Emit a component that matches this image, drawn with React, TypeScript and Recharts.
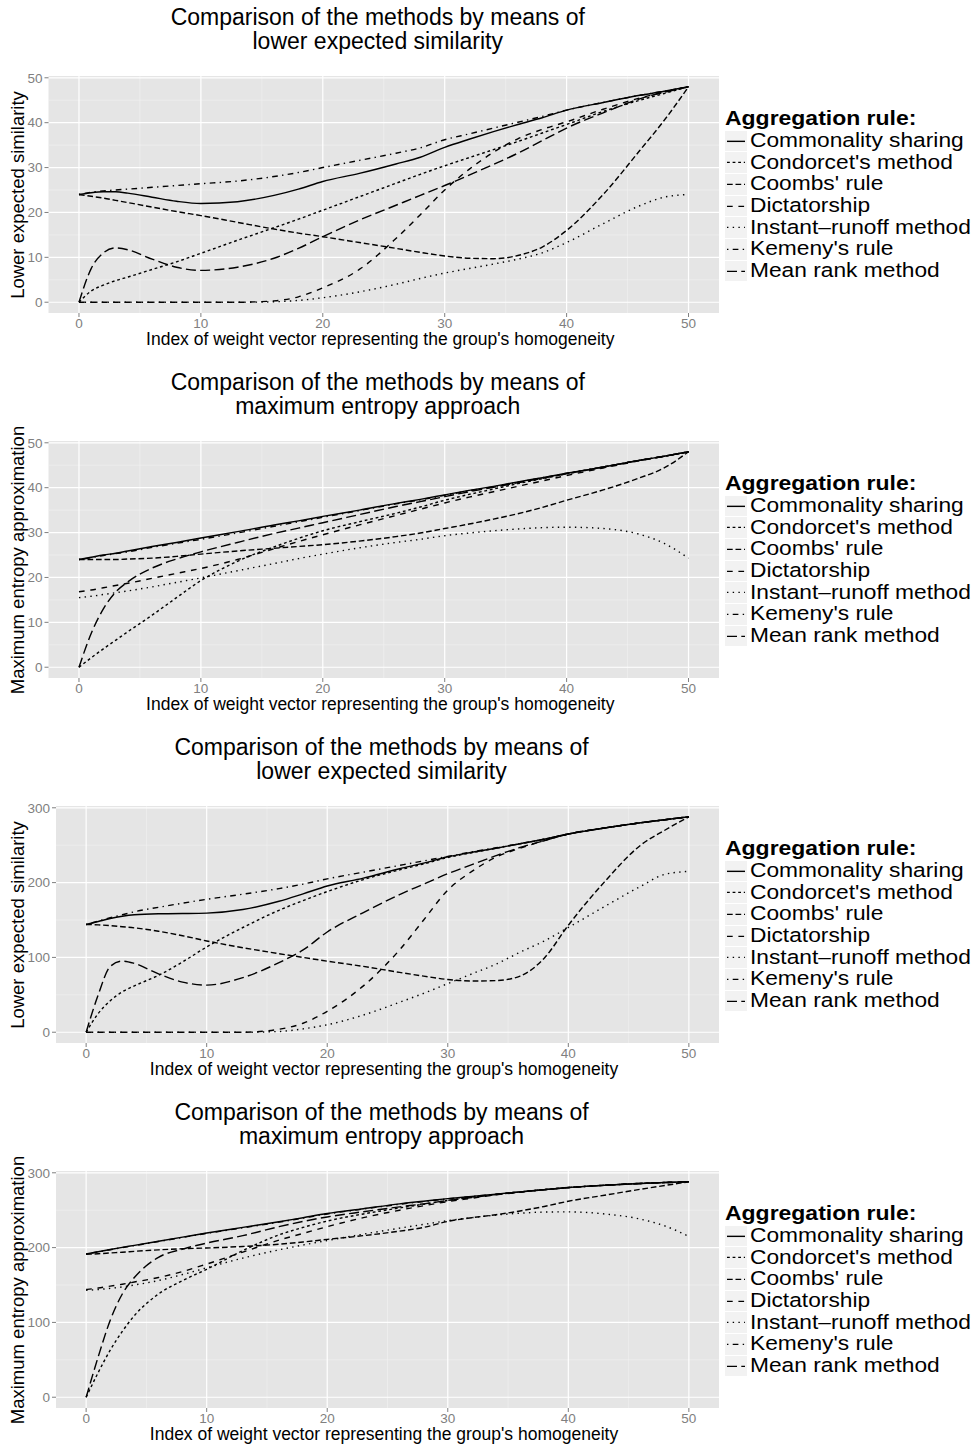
import { LineChart, Line, XAxis, YAxis, CartesianGrid } from 'recharts'

// index of the weight vector (shared x positions of all curves)
const IDX = [0, 1, 2, 3, 4, 6, 8, 10, 13, 16, 18, 20, 23, 26, 28, 30, 32, 34, 36, 38, 40, 43, 46, 48, 50]

const X_TICKS = [0, 10, 20, 30, 40, 50]
const X_MINOR = [5, 15, 25, 35, 45]
const Y_TICKS_50 = [0, 10, 20, 30, 40, 50]
const Y_MINOR_50 = [5, 15, 25, 35, 45]
const Y_TICKS_300 = [0, 100, 200, 300]
const Y_MINOR_300 = [50, 150, 250]

const METHODS = [
  'Commonality sharing',
  "Condorcet's method",
  "Coombs' rule",
  'Dictatorship',
  'Instant–runoff method',
  "Kemeny's rule",
  'Mean rank method',
]

// panel 1: lower expected similarity (0..48)
const les1Commonality = [24, 24.4, 24.6, 24.6, 24.3, 23.4, 22.5, 22.0, 22.4, 23.8, 25.2, 26.9, 28.7, 30.8, 32.3, 34.5, 36.3, 38.0, 39.6, 41.1, 42.8, 44.5, 46.1, 47.0, 48]
const les1Condorcet = [0, 2.5, 3.8, 4.8, 5.6, 7.3, 9.0, 10.9, 13.8, 16.6, 18.5, 20.5, 23.5, 26.5, 28.5, 30.4, 32.2, 34.0, 35.8, 37.7, 39.6, 42.5, 45.0, 46.5, 48]
const les1Coombs = [24, 23.6, 23.2, 22.7, 22.2, 21.2, 20.2, 19.3, 17.8, 16.3, 15.4, 14.6, 13.3, 12.0, 11.1, 10.3, 9.8, 9.7, 10.4, 12.3, 16.0, 24.0, 33.8, 40.5, 48]
const les1Dictatorship = [0, 0, 0, 0, 0, 0, 0, 0, 0, 0.3, 1.2, 3.2, 7.3, 14.2, 19.5, 25.0, 29.6, 33.4, 36.4, 38.5, 40.2, 43.0, 45.5, 46.8, 48]
const les1InstantRunoff = [0, 0, 0, 0, 0, 0, 0, 0, 0, 0.1, 0.4, 1.0, 2.3, 4.0, 5.3, 6.5, 7.5, 8.5, 9.6, 11.0, 13.3, 17.5, 21.5, 23.4, 24]
const les1Kemeny = [24, 24.5, 24.8, 25.0, 25.2, 25.6, 26.0, 26.4, 27.0, 28.0, 28.9, 30.0, 31.6, 33.2, 34.4, 36.2, 37.5, 38.8, 40.1, 41.4, 42.8, 44.5, 46.1, 47.0, 48]
const les1MeanRank = [0, 7.5, 11.0, 12.1, 11.7, 9.6, 7.8, 7.1, 7.8, 9.8, 12.0, 14.6, 18.3, 21.6, 23.8, 26.0, 28.3, 30.7, 33.2, 36.0, 38.8, 42.2, 45.3, 46.8, 48]

// panel 2: maximum entropy approximation (0..48)
const mea1Commonality = [24, 24.5, 25.0, 25.4, 25.9, 26.9, 27.8, 28.8, 30.2, 31.7, 32.6, 33.6, 35.0, 36.5, 37.4, 38.4, 39.4, 40.3, 41.3, 42.2, 43.2, 44.6, 46.1, 47.0, 48]
const mea1Condorcet = [0, 2.1, 4.1, 6.0, 7.9, 11.6, 15.5, 19.3, 23.6, 26.8, 28.7, 30.4, 32.4, 34.3, 35.7, 37.2, 38.5, 39.7, 40.9, 42.0, 43.1, 44.6, 46.1, 47.0, 48]
const mea1Coombs = [24, 24.0, 24.0, 24.0, 24.1, 24.3, 24.7, 25.2, 25.9, 26.5, 26.9, 27.3, 28.1, 29.1, 29.9, 30.9, 31.9, 33.0, 34.2, 35.6, 37.2, 39.5, 42.2, 44.4, 48]
const mea1Dictatorship = [16.8, 17.2, 17.7, 18.2, 18.7, 19.8, 20.9, 22.0, 24.0, 26.4, 28.0, 29.5, 31.7, 33.8, 35.2, 36.6, 37.9, 39.1, 40.3, 41.5, 42.7, 44.4, 46.0, 47.0, 48]
const mea1InstantRunoff = [15.5, 15.8, 16.2, 16.6, 17.0, 17.9, 18.9, 19.9, 21.5, 23.1, 24.2, 25.2, 26.6, 27.8, 28.5, 29.3, 29.9, 30.4, 30.8, 31.1, 31.2, 30.9, 29.6, 27.6, 24.3]
const mea1Kemeny = [24, 24.4, 24.9, 25.3, 25.7, 26.7, 27.6, 28.5, 29.9, 31.4, 32.4, 33.4, 34.9, 36.4, 37.3, 38.3, 39.3, 40.2, 41.2, 42.2, 43.2, 44.6, 46.1, 47.0, 48]
const mea1MeanRank = [0, 7.5, 13.0, 16.7, 19.0, 22.1, 24.1, 25.7, 27.8, 29.8, 31.0, 32.2, 34.0, 35.8, 36.9, 38.0, 39.1, 40.1, 41.1, 42.1, 43.1, 44.6, 46.1, 47.0, 48]

// panel 3: lower expected similarity (0..288)
const les2Commonality = [144, 148, 152, 155, 157, 158.3, 158.6, 159.2, 164, 175, 185, 195.5, 206, 218.5, 226, 234.5, 240.5, 246, 252, 258, 265, 273, 280, 284, 288]
const les2Condorcet = [0, 25, 42, 54, 62, 76, 94, 114, 140, 163, 176, 188, 204, 217, 225, 233.5, 240, 246, 252, 258, 265, 273, 280, 284, 288]
const les2Coombs = [144, 143.5, 142.5, 141, 139.5, 135, 129, 122, 113, 105, 100, 95, 88, 80, 75, 70.5, 68.5, 69, 75, 99, 143, 201, 250, 270, 288]
const les2Dictatorship = [0, 0, 0, 0, 0, 0, 0, 0, 0, 4, 12, 28, 62, 110, 150, 190, 215, 234, 246, 256, 265, 273, 280, 284, 288]
const les2InstantRunoff = [0, 0, 0, 0, 0, 0, 0, 0, 0, 1, 4.5, 10, 23, 40, 52, 65, 78, 91, 107, 122, 140, 168, 195, 211, 215]
const les2Kemeny = [144, 148.5, 153, 157, 161, 167, 172.5, 177.7, 184.5, 192, 198, 205, 214, 223, 229, 235, 241, 246.5, 252, 258, 265, 273, 280, 284, 288]
const les2MeanRank = [0, 50, 88, 95, 92, 78, 67, 63, 73, 93, 110, 134, 160, 184, 198, 212, 224, 236, 247, 256, 265, 273, 280, 284, 288]

// panel 4: maximum entropy approximation (0..288)
const mea2Commonality = [191.5, 194.5, 197.5, 200.3, 203, 208.5, 214, 219.5, 227, 234.5, 240, 245.5, 252, 258.5, 262, 265.5, 268.5, 271.5, 274.5, 277.5, 280.3, 283.3, 285.8, 287, 288]
const mea2Condorcet = [0, 33, 63, 88, 109, 138, 156, 171, 196, 217, 227, 235.5, 245, 253, 258, 263, 267.5, 271, 274.5, 277.5, 280.3, 283.3, 285.8, 287, 288]
const mea2Coombs = [191, 191.8, 192.8, 193.8, 195, 197, 198.5, 199.5, 201.5, 204.5, 207.5, 211, 216, 222, 227, 235, 240, 244, 249, 255, 262, 270, 278, 283, 288]
const mea2Dictatorship = [144, 146, 148.5, 151, 154, 160, 168, 178, 194, 210, 219, 228, 240, 250, 256, 261.5, 266, 270.5, 274, 277.4, 280.2, 283.3, 285.8, 287, 288]
const mea2InstantRunoff = [143, 144, 145.5, 147.5, 150, 156, 164, 173, 186, 197, 203.5, 209.5, 218, 226, 231, 236, 240, 243.5, 246, 247.5, 247.8, 245, 238, 229, 215]
const mea2Kemeny = [191.5, 194.3, 197.2, 200, 202.7, 208.1, 213.6, 219, 226.5, 234, 239.5, 245, 251.5, 258, 261.6, 265.2, 268.3, 271.3, 274.4, 277.4, 280.2, 283.3, 285.8, 287, 288]
const mea2MeanRank = [0, 54, 103, 138, 160, 187, 198, 206, 216, 228, 235, 241, 248, 254.5, 258.5, 263, 267, 271, 274.3, 277.4, 280.2, 283.3, 285.8, 287, 288]

// ggplot default linetypes, 1 unit = line width
const DASHES = ['', '2.8 2.8', '5.7 2.8', '5.7 5.7', '1.4 4.3', '1.4 4.3 5.7 4.3', '10 4.3']
const LWD = 1.42

const FONT = "'Liberation Sans', Arial, Helvetica, sans-serif"
const BLOCK = 365
const PLOT_TOP = 76
const PLOT_RIGHT = 719
const PLOT_BOTTOM = 313
const ROW = 21.7

interface PanelProps {
  top: number
  subtitle: string
  yLabel: string
  yTicks: number[]
  yMinor: number[]
  yDomain: [number, number]
  plotLeft: number
  series: number[][]
}

function LegendBlock() {
  return (
    <div style={{ position: 'absolute', left: 725, top: 106 }}>
      <div style={{ height: 24, display: 'flex', alignItems: 'center' }}>
        <span
          style={{
            display: 'inline-block',
            fontWeight: 'bold',
            fontSize: 20.5,
            lineHeight: '22px',
            whiteSpace: 'nowrap',
            transform: 'scaleX(1.12)',
            transformOrigin: 'left center',
          }}
        >
          Aggregation rule:
        </span>
      </div>
      {METHODS.map((m, i) => (
        <div key={m} style={{ display: 'flex', alignItems: 'center', height: ROW }}>
          <svg width={22} height={ROW - 1} style={{ background: '#f2f2f2', marginRight: 3, flex: 'none' }}>
            <line
              x1={2}
              x2={20}
              y1={(ROW - 1) / 2}
              y2={(ROW - 1) / 2}
              stroke="#000"
              strokeWidth={LWD}
              strokeDasharray={DASHES[i] || undefined}
            />
          </svg>
          <span
            style={{
              display: 'inline-block',
              fontSize: 19.3,
              lineHeight: '20px',
              whiteSpace: 'nowrap',
              transform: 'scaleX(1.18)',
              transformOrigin: 'left center',
            }}
          >
            {m}
          </span>
        </div>
      ))}
    </div>
  )
}

function Panel({ top, subtitle, yLabel, yTicks, yMinor, yDomain, plotLeft, series }: PanelProps) {
  const rows = IDX.map((x, i) => {
    const row: Record<string, number> = { x }
    series.forEach((s, k) => {
      row[`s${k}`] = s[i]
    })
    return row
  })
  const plotCenter = (plotLeft + PLOT_RIGHT) / 2

  return (
    <div style={{ position: 'absolute', left: 0, top, width: 979, height: BLOCK }}>
      <div
        style={{
          position: 'absolute',
          left: plotCenter - 6 - 300,
          top: 5,
          width: 600,
          textAlign: 'center',
          fontSize: 23,
          lineHeight: '24px',
        }}
      >
        Comparison of the methods by means of
        <br />
        {subtitle}
      </div>

      <div style={{ position: 'absolute', left: 0, top: 60 }}>
        <LineChart
          width={PLOT_RIGHT + 3}
          height={300}
          data={rows}
          margin={{ top: PLOT_TOP - 60, right: 3, left: 0, bottom: 0 }}
        >
          <CartesianGrid
            fill="#e5e5e5"
            stroke="#f2f2f2"
            strokeWidth={0.6}
            horizontalValues={yMinor}
            verticalValues={X_MINOR}
          />
          <CartesianGrid
            stroke="#ffffff"
            strokeWidth={1.2}
            horizontalValues={yTicks}
            verticalValues={X_TICKS}
          />
          <XAxis
            dataKey="x"
            type="number"
            domain={[-2.5, 52.5]}
            ticks={X_TICKS}
            interval={0}
            allowDataOverflow
            height={300 - (PLOT_BOTTOM - 60)}
            axisLine={false}
            tickSize={4}
            tickMargin={1}
            tickLine={{ stroke: '#7f7f7f' }}
            tick={{ fill: '#7f7f7f', fontSize: 13.5, fontFamily: FONT }}
          />
          <YAxis
            type="number"
            domain={yDomain}
            ticks={yTicks}
            interval={0}
            allowDataOverflow
            width={plotLeft}
            axisLine={false}
            tickSize={4}
            tickLine={{ stroke: '#7f7f7f' }}
            tick={{ fill: '#7f7f7f', fontSize: 13.5, fontFamily: FONT }}
          />
          {series.map((_, k) => (
            <Line
              key={METHODS[k]}
              name={METHODS[k]}
              dataKey={`s${k}`}
              type="monotone"
              stroke="#000"
              strokeWidth={LWD}
              strokeDasharray={DASHES[k] || undefined}
              dot={false}
              activeDot={false}
              isAnimationActive={false}
            />
          ))}
        </LineChart>
      </div>

      <div
        style={{
          position: 'absolute',
          left: plotCenter - 3.5 - 300,
          top: 339 - 10,
          width: 600,
          textAlign: 'center',
          fontSize: 17.5,
          lineHeight: '20px',
          whiteSpace: 'nowrap',
        }}
      >
        Index of weight vector representing the group's homogeneity
      </div>

      <div
        style={{
          position: 'absolute',
          left: 18 - 150,
          top: (PLOT_TOP + PLOT_BOTTOM) / 2 - 10,
          width: 300,
          textAlign: 'center',
          fontSize: 18.5,
          lineHeight: '20px',
          whiteSpace: 'nowrap',
          transform: 'rotate(-90deg)',
        }}
      >
        {yLabel}
      </div>

      <LegendBlock />
    </div>
  )
}

export default function App() {
  return (
    <div
      style={{
        position: 'absolute',
        left: 0,
        top: 0,
        width: 979,
        height: 1448,
        overflow: 'hidden',
        background: '#fff',
        fontFamily: FONT,
        color: '#000',
      }}
    >
      <Panel
        top={0}
        subtitle="lower expected similarity"
        yLabel="Lower expected similarity"
        yTicks={Y_TICKS_50}
        yMinor={Y_MINOR_50}
        yDomain={[-2.4, 50.4]}
        plotLeft={48.5}
        series={[les1Commonality, les1Condorcet, les1Coombs, les1Dictatorship, les1InstantRunoff, les1Kemeny, les1MeanRank]}
      />
      <Panel
        top={BLOCK}
        subtitle="maximum entropy approach"
        yLabel="Maximum entropy approximation"
        yTicks={Y_TICKS_50}
        yMinor={Y_MINOR_50}
        yDomain={[-2.4, 50.4]}
        plotLeft={48.5}
        series={[mea1Commonality, mea1Condorcet, mea1Coombs, mea1Dictatorship, mea1InstantRunoff, mea1Kemeny, mea1MeanRank]}
      />
      <Panel
        top={BLOCK * 2}
        subtitle="lower expected similarity"
        yLabel="Lower expected similarity"
        yTicks={Y_TICKS_300}
        yMinor={Y_MINOR_300}
        yDomain={[-14.4, 302.4]}
        plotLeft={56}
        series={[les2Commonality, les2Condorcet, les2Coombs, les2Dictatorship, les2InstantRunoff, les2Kemeny, les2MeanRank]}
      />
      <Panel
        top={BLOCK * 3}
        subtitle="maximum entropy approach"
        yLabel="Maximum entropy approximation"
        yTicks={Y_TICKS_300}
        yMinor={Y_MINOR_300}
        yDomain={[-14.4, 302.4]}
        plotLeft={56}
        series={[mea2Commonality, mea2Condorcet, mea2Coombs, mea2Dictatorship, mea2InstantRunoff, mea2Kemeny, mea2MeanRank]}
      />
    </div>
  )
}
